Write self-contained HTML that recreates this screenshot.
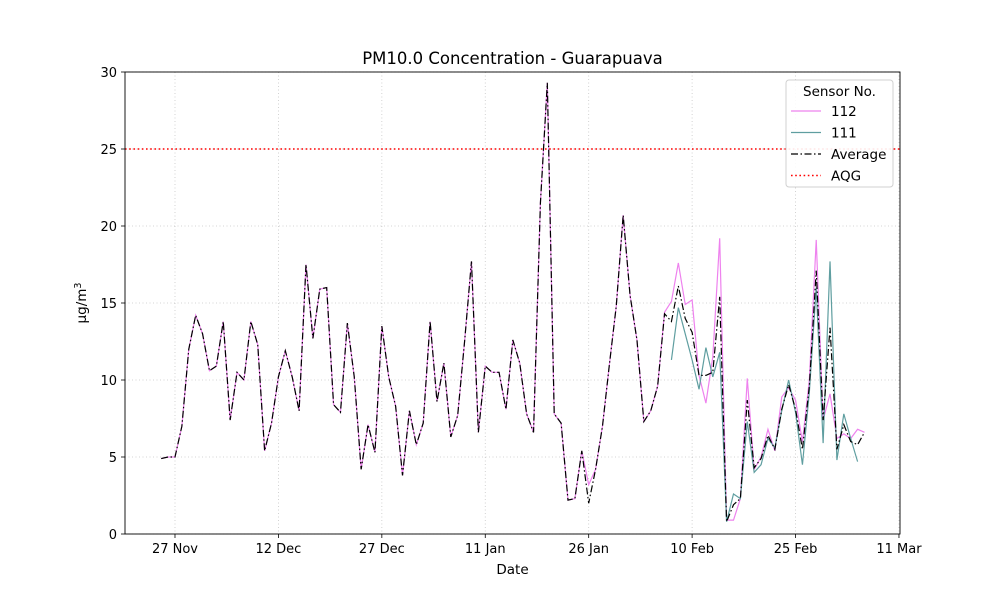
<!DOCTYPE html>
<html><head><meta charset="utf-8"><style>
body{margin:0;background:#fff;}
svg{font-family:"DejaVu Sans","Liberation Sans",sans-serif;}
</style></head><body>
<svg id="chart" width="1000" height="600" xmlns="http://www.w3.org/2000/svg"></svg>
<script>
const tickLabels=["27 Nov","12 Dec","27 Dec","11 Jan","26 Jan","10 Feb","25 Feb","11 Mar"];
const tickDays=[0,15,30,45,60,75,90,105];
const yTicks=[0,5,10,15,20,25,30];
const startDay=-2;
const avgValues=[4.9,5.0,5.0,7,12,14.2,13,10.6,10.9,13.8,
7.4,10.5,10,13.8,12.3,5.4,7.2,10.2,11.9,10.2,
8,17.5,12.7,15.9,16,8.4,7.9,13.7,10.2,4.2,
7.1,5.3,13.5,10.2,8.3,3.8,8,5.8,7.2,13.8,
8.6,11.1,6.3,7.7,12.5,17.7,6.6,10.9,10.5,10.5,
8.1,12.6,11.1,7.8,6.6,21.5,29.3,7.8,7.2,2.2,
2.3,5.4,2.0,4.2,7,11,14.8,20.7,15.5,12.6,
7.3,8,9.6,14.3,13.8,16.1,14.0,13.1,10.3,10.3,
10.5,15.4,0.8,1.9,2.3,8.7,4.3,4.9,6.4,5.5,
8.1,9.7,8.1,5.5,9.6,17.1,7.4,13.4,5.5,7.1,
6.0,5.8,6.6];
const s112Tail=[14.4,15.1,17.6,14.9,15.2,10.3,8.5,11.5,19.2,0.9,0.9,2.3,10.1,4.2,5.0,6.8,5.4,8.9,9.5,8.7,6.0,10,19.1,7.4,9.1,6.2,6.5,6.2,6.8,6.6];
const s111Values=[11.3,14.7,13.0,11.3,9.4,12.1,10.2,11.8,0.8,2.6,2.3,7.3,4.0,4.5,6.2,5.6,8.0,10.0,7.9,4.5,9.2,16,5.9,17.7,4.8,7.8,6.2,4.7];
const s111Start=74;
const aqg=25;

const L=125,R=900,T=72,B=534;
const dMin=-7.25,dMax=105.15,yMax=30;
const xs=d=>L+(d-dMin)/(dMax-dMin)*(R-L);
const ys=v=>B-v/yMax*(B-T);
const NS="http://www.w3.org/2000/svg";
const svg=document.getElementById('chart');
function mk(tag,attrs,parent){const e=document.createElementNS(NS,tag);for(const k in attrs)e.setAttribute(k,attrs[k]);(parent||svg).appendChild(e);return e;}

// series data
const s112=avgValues.slice(0,73).map(v=>v);
s112[62]=3.2;
s112Tail.forEach(v=>s112.push(v));

// grid
tickDays.forEach((d,i)=>{
 const x=xs(d);
 const g=mk('line',{x1:x,x2:x,y1:T,y2:B,stroke:'#b0b0b0','stroke-width':0.8,'stroke-dasharray':'1,2.5',opacity:0.7});
 
 
 mk('line',{x1:x,x2:x,y1:B,y2:B+4,stroke:'#000','stroke-width':0.8});
 const t=mk('text',{x:x,y:B+19,'text-anchor':'middle','font-size':13});
 t.textContent=tickLabels[i];
 
 
});
yTicks.forEach(v=>{
 const y=ys(v);
 const g=mk('line',{x1:L,x2:R,y1:y,y2:y,stroke:'#b0b0b0','stroke-width':0.8,'stroke-dasharray':'1,2.5',opacity:0.7});
 
 
 mk('line',{x1:L-4,x2:L,y1:y,y2:y,stroke:'#000','stroke-width':0.8});
 const t=mk('text',{x:L-8,y:y+5,'text-anchor':'end','font-size':13});
 t.textContent=v;
 
 
});

function pathFrom(vals,start){return vals.map((v,i)=>(i?'L':'M')+xs(startDay+start+i).toFixed(2)+','+ys(v).toFixed(2)).join(' ');}

const p112=mk('path',{d:pathFrom(s112,0),fill:'none',stroke:'violet','stroke-width':1.2});


const p111=mk('path',{d:pathFrom(s111Values,s111Start),fill:'none',stroke:'cadetblue','stroke-width':1.2});


const pavg=mk('path',{d:pathFrom(avgValues,0),fill:'none',stroke:'#000','stroke-width':1.2,'stroke-dasharray':'7,2.5,1.5,2.5'});


const aq=mk('line',{x1:L,x2:R,y1:ys(aqg),y2:ys(aqg),stroke:'red','stroke-width':1.6,'stroke-dasharray':'1.6,2.6'});



// frame
const fr=mk('rect',{x:L,y:T,width:R-L,height:B-T,fill:'none',stroke:'#000','stroke-width':0.9});



const title=mk('text',{x:(L+R)/2,y:64,'text-anchor':'middle','font-size':16.5});
title.textContent='PM10.0 Concentration - Guarapuava';


const xt=mk('text',{x:(L+R)/2,y:574,'text-anchor':'middle','font-size':13.5});
xt.textContent='Date';


const yt=mk('text',{x:0,y:0,'text-anchor':'middle','font-size':13.5,transform:'translate(86,303) rotate(-90)'});
yt.innerHTML='μg/m<tspan dy="-5" font-size="9.5">3</tspan>';



// legend
const lg=mk('g',{});


mk('rect',{x:786,y:80,width:107,height:107,rx:3,fill:'#fff',stroke:'#ccc','stroke-width':1,opacity:0.9},lg);
const lt=mk('text',{x:839.5,y:96,'text-anchor':'middle','font-size':13.5},lg);lt.textContent='Sensor No.';
const items=[['112','violet',''],['111','cadetblue',''],['Average','#000','7,2.5,1.5,2.5'],['AQG','red','1.6,2.6']];
items.forEach((it,i)=>{
 const y=111+i*21.5;
 const g=mk('g',{},lg);
 
 
 const a={x1:791,x2:821,y1:y,y2:y,stroke:it[1],'stroke-width':it[0]==='AQG'?1.6:1.2};
 if(it[2])a['stroke-dasharray']=it[2];
 mk('line',a,g);
 const t=mk('text',{x:831,y:y+5,'font-size':13.5},g);t.textContent=it[0];
});
</script>
</body></html>
